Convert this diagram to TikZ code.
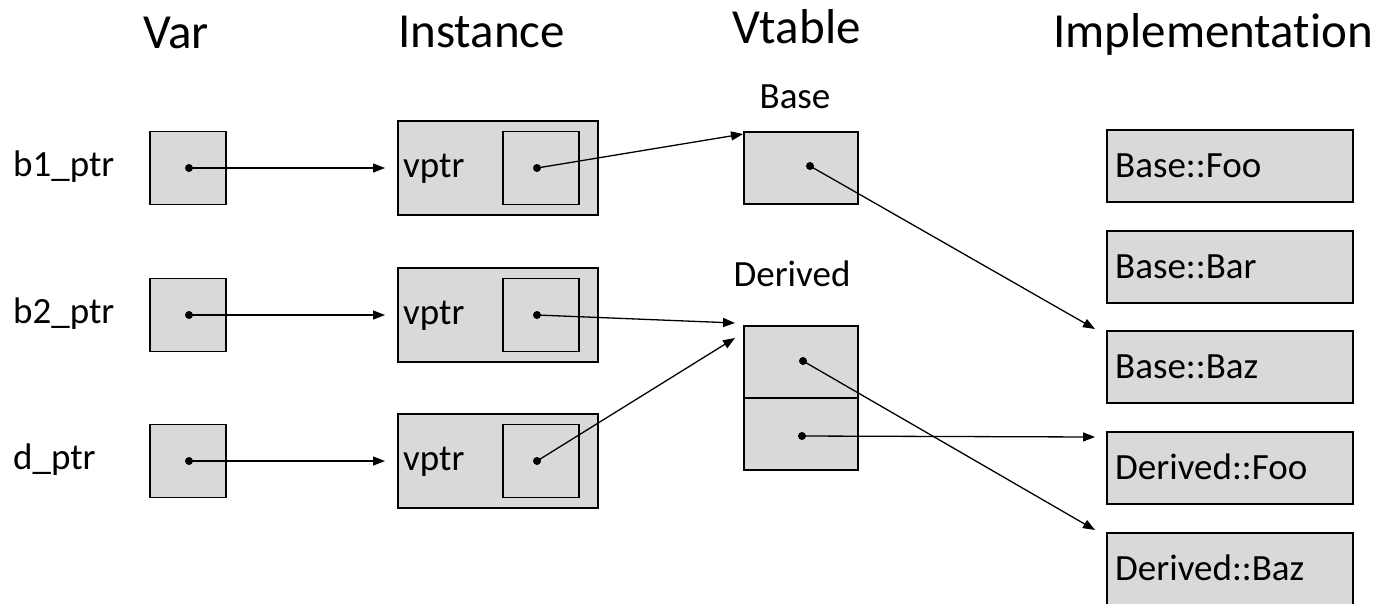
\documentclass[tikz,border=0pt]{standalone}
\usepackage{fontspec}
\setmainfont{Carlito}[Ligatures={NoCommon,NoRare,NoDiscretionary}]
\usetikzlibrary{arrows.meta}
\definecolor{boxgray}{HTML}{D9D9D9}
\tikzset{
  box/.style={draw=black, fill=boxgray, line width=1.5pt, inner sep=0pt, outer sep=0pt},
  dot/.style={circle, fill=black, inner sep=0pt, minimum size=8pt},
  arr/.style={line width=1.3pt, -{Triangle[length=12pt,width=9pt]}},
  titlefont/.style={font=\fontsize{49}{54}\selectfont, inner sep=0pt},
  labfont/.style={font=\fontsize{37}{42}\selectfont, inner sep=0pt},
}
\begin{document}
\begin{tikzpicture}[x=1pt,y=-1pt]
\useasboundingbox (0,0) rectangle (1375,603);
\clip (0,0) rectangle (1375,603);
\fill[white] (0,0) rectangle (1375,603);
% titles
\node[titlefont, anchor=base west] (tvar) at (143,48) {Var};
\node[titlefont, anchor=base west] (tinst) at (398,47) {Instance};
\node[titlefont, anchor=base west] (tvt) at (732,43) {Vtable};
\node[titlefont, anchor=base west] (timpl) at (1053,47) {Implementation};
% var labels
\node[labfont, anchor=base west] (l1) at (13,176) {b1\_ptr};
\node[labfont, anchor=base west] (l2) at (13,323) {b2\_ptr};
\node[labfont, anchor=base west] (l3) at (13,469) {d\_ptr};
% var and instance boxes
\foreach \i/\y in {1/168,2/315,3/461}{
  \node[box, minimum width=76pt, minimum height=73pt] (var\i) at (188,\y) {};
  \node[box, minimum width=200pt, minimum height=94pt] (inst\i) at (498,\y) {};
  \node[box, minimum width=76pt, minimum height=73pt] (in\i) at (541,\y) {};
  \node[labfont, anchor=base west] (vp\i) at ([xshift=5pt,yshift=-9pt]inst\i.west) {vptr};
  \node[dot] (vd\i) at (189,\y) {};
  \node[dot] (id\i) at (537,\y) {};
  \coordinate (va\i) at (385,\y);
}
% vtables
\node[labfont, anchor=base] (lbase) at (795,108) {Base};
\node[labfont, anchor=base] (lder) at (792,286) {Derived};
\node[box, minimum width=114pt, minimum height=72pt] (vtb) at (801,168) {};
\node[box, minimum width=114pt, minimum height=72pt] (vtd1) at (801,362) {};
\node[box, minimum width=114pt, minimum height=72pt] (vtd2) at (801,434) {};
\node[dot] (bd) at (810,166) {};
\node[dot] (dd1) at (803,361) {};
\node[dot] (dd2) at (802,436) {};
% implementations
\foreach \n/\y/\t in {1/166/{Base::Foo},2/267/{Base::Bar},3/367/{Base::Baz},4/468/{Derived::Foo},5/569/{Derived::Baz}}{
  \node[box, minimum width=246pt, minimum height=72pt] (imp\n) at (1230,\y) {};
  \node[labfont, anchor=base west] (impt\n) at ([xshift=8pt,yshift=-11.5pt]imp\n.west) {\t};
}
% arrow targets
\coordinate (tb) at (743,134);
\coordinate (td2) at (735,323);
\coordinate (td3) at (735,338);
\coordinate (tbaz) at (1095,329);
\coordinate (tdbaz) at (1095,530);
\coordinate (tdfoo) at (1095,437);
% connectors
\foreach \i in {1,2,3}{ \draw[arr] (vd\i.center) -- (va\i); }
\draw[arr] (id1.center) -- (tb);
\draw[arr] (id2.center) -- (td2);
\draw[arr] (id3.center) -- (td3);
\draw[arr] (bd.center) -- (tbaz);
\draw[arr] (dd1.center) -- (tdbaz);
\draw[arr] (dd2.center) -- (tdfoo);
\end{tikzpicture}
\end{document}
